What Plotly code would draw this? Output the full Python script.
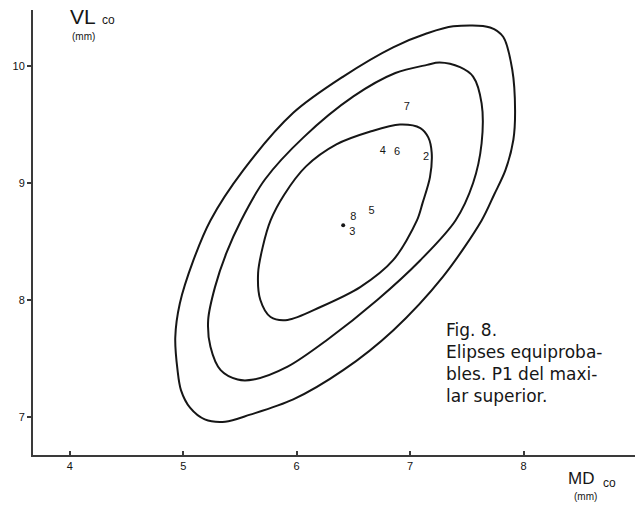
import plotly.graph_objects as go

# Equiprobability contours (MD vs VL, mm), traced as closed paths
outer_x = [7.29, 6.85, 6.41, 5.97, 5.59, 5.37, 5.19, 5.06, 4.98, 4.95, 4.93, 4.97, 5.09,
           5.24, 5.53, 5.97, 6.41, 6.85, 7.15, 7.38, 7.705, 7.82, 7.90, 7.925, 7.91, 7.84,
           7.74, 7.63, 7.29]
outer_y = [8.20, 7.74, 7.40, 7.15, 7.02, 6.96, 6.98, 7.08, 7.23, 7.40, 7.68, 7.97, 8.34,
           8.68, 9.11, 9.60, 9.91, 10.16, 10.28, 10.34, 10.33, 10.25, 9.97, 9.62, 9.37, 9.11,
           8.90, 8.68, 8.20]

mid_x = [6.71, 6.27, 5.92, 5.62, 5.48, 5.33, 5.24, 5.22, 5.28, 5.38, 5.51, 5.72, 6.06,
         6.50, 6.87, 7.15, 7.26, 7.44, 7.555, 7.63, 7.63, 7.555, 7.40, 7.09, 6.71]
mid_y = [8.00, 7.66, 7.43, 7.32, 7.32, 7.40, 7.60, 7.83, 8.11, 8.40, 8.68, 9.03, 9.39,
         9.74, 9.94, 10.01, 10.03, 9.99, 9.91, 9.68, 9.34, 9.00, 8.68, 8.34, 8.00]

inner_x = [6.56, 6.21, 5.92, 5.77, 5.68, 5.66, 5.70, 5.77, 5.89, 6.08, 6.35, 6.65, 6.91,
           7.09, 7.16, 7.19, 7.175, 7.11, 7.06, 6.85, 6.56]
inner_y = [8.11, 7.94, 7.83, 7.855, 8.00, 8.23, 8.45, 8.68, 8.90, 9.14, 9.33, 9.44, 9.50,
           9.47, 9.39, 9.26, 9.05, 8.83, 8.68, 8.34, 8.11]

# Numbered observations
obs_labels = ["7", "4", "6", "2", "5", "8", "3"]
obs_x = [6.97, 6.76, 6.885, 7.14, 6.66, 6.50, 6.49]
obs_y = [9.65, 9.27, 9.265, 9.22, 8.76, 8.71, 8.58]

# Unlabelled point
dot_x = [6.41]
dot_y = [8.64]

x_ticks = [4, 5, 6, 7, 8]
y_ticks = [7, 8, 9, 10]

ink = "#161616"
fig = go.Figure()

for xs, ys in [(outer_x, outer_y), (mid_x, mid_y), (inner_x, inner_y)]:
    fig.add_trace(go.Scatter(
        x=xs, y=ys, mode="lines",
        line=dict(color=ink, width=2, shape="spline", smoothing=0.9),
        hoverinfo="skip", showlegend=False,
    ))

fig.add_trace(go.Scatter(
    x=obs_x, y=obs_y, mode="text", text=obs_labels,
    textfont=dict(family="Liberation Sans", size=11, color=ink),
    textposition="middle center", showlegend=False,
))

fig.add_trace(go.Scatter(
    x=dot_x, y=dot_y, mode="markers",
    marker=dict(color=ink, size=4), showlegend=False,
))

axis_common = dict(
    showgrid=False, zeroline=False, showline=True,
    linecolor="#3a3a3a", linewidth=2,
    tickcolor="#3a3a3a", tickwidth=1.5, ticklen=4,
    tickfont=dict(family="Liberation Sans", size=11, color="#111"),
    fixedrange=True,
)

fig.update_xaxes(range=[3.676, 8.982], tickvals=x_ticks, ticks="inside", **axis_common)
fig.update_yaxes(range=[6.675, 10.479], tickvals=y_ticks, ticks="outside", **axis_common)

title_font = dict(family="Liberation Sans", color=ink)
annotations = [
    dict(x=3.987, y=10.42, text="VL", font=dict(size=21, **title_font)),
    dict(x=4.27, y=10.39, text="co", font=dict(size=12, **title_font)),
    dict(x=4.00, y=10.25, text="(mm)", font=dict(size=10, **title_font)),
    dict(x=7.30, y=7.85, yanchor="top", align="left",
         text="Fig. 8.<br>Elipses equiproba-<br>bles. P1 del maxi-<br>lar superior.",
         font=dict(family="DejaVu Sans", size=17, color=ink)),
]
for a in annotations:
    a.setdefault("yanchor", "middle")
    a.update(xref="x", yref="y", xanchor="left", showarrow=False)

# x-axis title sits below the plotting area, placed in paper units
annotations += [
    dict(x=0.886, y=-0.052, text="MD", font=dict(size=17, **title_font)),
    dict(x=0.943, y=-0.062, text="co", font=dict(size=12, **title_font)),
    dict(x=0.896, y=-0.094, text="(mm)", font=dict(size=10, **title_font)),
]
for a in annotations[-3:]:
    a.update(xref="paper", yref="paper", xanchor="left", yanchor="middle", showarrow=False)

fig.update_layout(annotations=annotations)

fig.update_layout(
    width=635, height=513,
    margin=dict(l=33, r=0, t=10, b=58),
    paper_bgcolor="white", plot_bgcolor="white",
    showlegend=False,
)

fig.write_html("out.html")
